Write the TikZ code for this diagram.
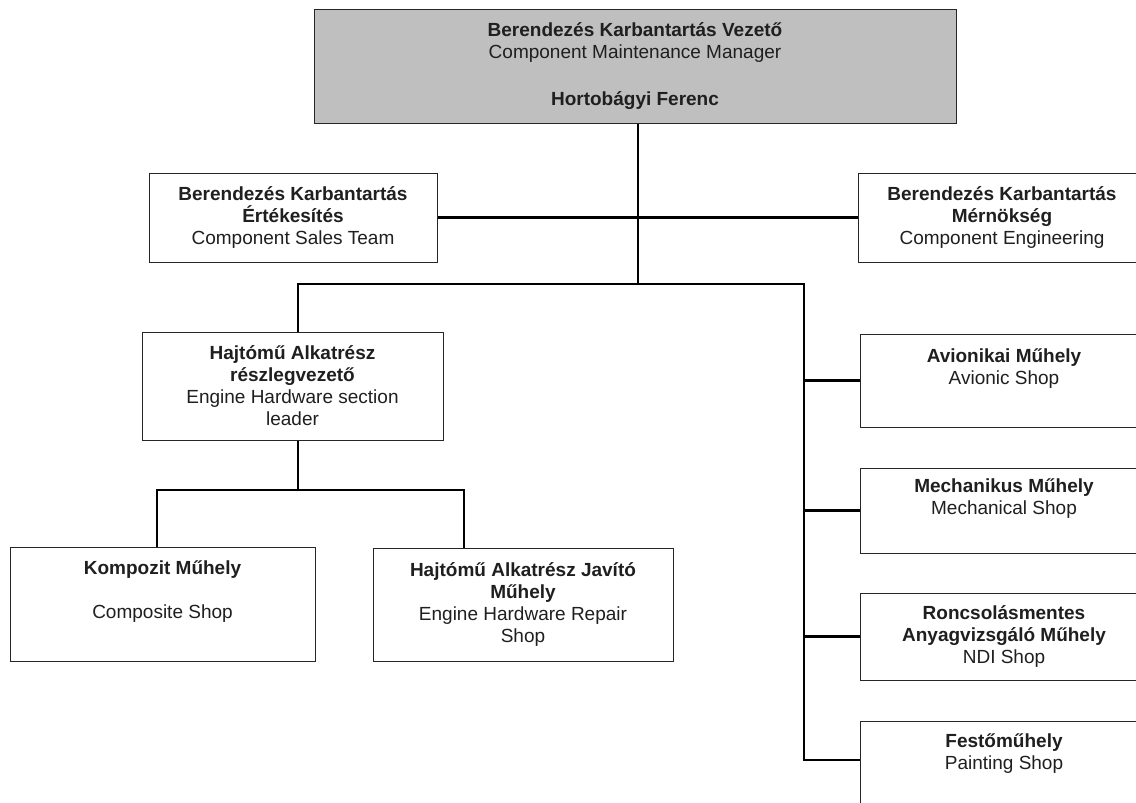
\documentclass[tikz,border=0pt]{standalone}
\usepackage{fontspec}
\setmainfont{Liberation Sans}
\usetikzlibrary{positioning}
\tikzstyle{unit}=[draw=black!85, line width=1pt, rectangle, minimum width=288pt, align=center, inner sep=0pt, text=black!88, font=\fontsize{19}{22}\selectfont]
\tikzstyle{link}=[line width=2.2pt, black]

\begin{document}
\begin{tikzpicture}[x=1pt,y=-1pt]
        \clip (0,0) rectangle (1136,803);
        \fill[white] (0,0) rectangle (1136,803);

        \node (mgr) [unit, fill=black!25, minimum width=642pt, minimum height=114pt] at (635,66) {\textbf{Berendezés Karbantartás Vezető}\\Component Maintenance Manager\\[25pt]\textbf{Hortobágyi Ferenc}};
        \node (sales) [unit, minimum height=89pt] at (293,217.5) {\textbf{Berendezés Karbantartás}\\\textbf{Értékesítés}\\Component Sales Team};
        \node (eng) [unit, minimum height=89pt] at (1002,217.5) {\textbf{Berendezés Karbantartás}\\\textbf{Mérnökség}\\Component Engineering};

        \node (hw) [unit, minimum width=301pt, minimum height=108pt] at (292.5,386) {\textbf{Hajtómű Alkatrész}\\\textbf{részlegvezető}\\Engine Hardware section\\leader};
        \node (comp) [unit, minimum width=305pt, minimum height=114pt] at (162.5,604) {\textbf{Kompozit Műhely}\\\strut\\Composite Shop\\\strut};
        \node (hwrep) [unit, minimum width=300pt, minimum height=113pt] at (523,604.5) {\textbf{Hajtómű Alkatrész Javító}\\\textbf{Műhely}\\Engine Hardware Repair\\Shop};

        \node (avi) [unit, minimum height=93pt] at (1004,380.5) {\textbf{Avionikai Műhely}\\Avionic Shop\\\strut};
        \node (mech) [unit, minimum height=85pt] at (1004,510.5) {\textbf{Mechanikus Műhely}\\Mechanical Shop\\\strut};
        \node (ndi) [unit, minimum height=87pt] at (1004,636.5) {\textbf{Roncsolásmentes}\\\textbf{Anyagvizsgáló Műhely}\\NDI Shop};
        \node (paint) [unit, minimum height=90pt] at (1004,766) {\textbf{Festőműhely}\\Painting Shop\\\strut};

        \coordinate (hub) at (638,284);
        \coordinate (lt) at (298,284);
        \coordinate (rt) at (804,284);
        \coordinate (rb) at (804,760);
        \coordinate (ls) at (298,490);
        \coordinate (lc) at (157,490);
        \coordinate (lr) at (464,490);

        \draw [link] (hub |- mgr.south) -- (hub);
        \draw [link] (sales) -- (eng);
        \draw [link] (hw.north -| lt) -- (lt) -- (rt) -- (rb) -- (rb -| paint.west);
        \draw [link] (ls |- hw.south) -- (ls);
        \draw [link] (lc |- comp.north) -- (lc) -- (lr) -- (lr |- hwrep.north);
        \foreach \n in {avi,mech,ndi}
            \draw [link] (\n.west) -- (\n.west -| rt);
\end{tikzpicture}
\end{document}
